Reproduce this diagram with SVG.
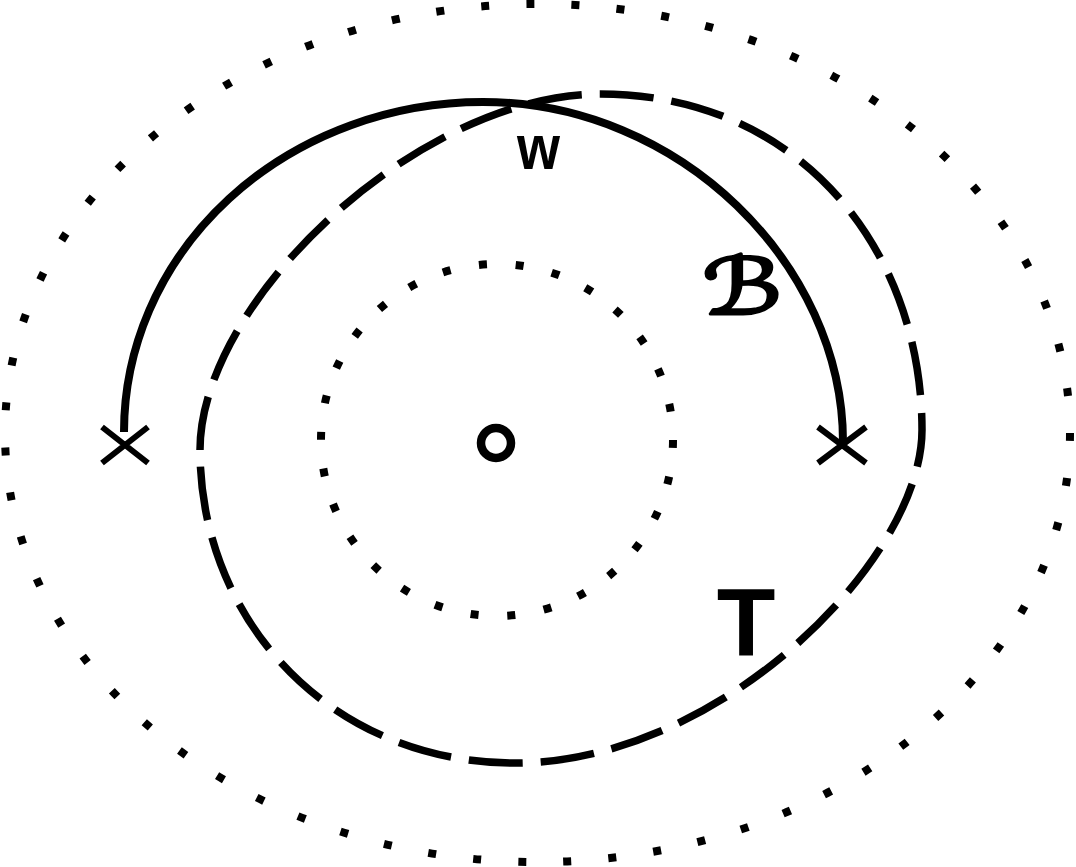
<svg xmlns="http://www.w3.org/2000/svg" width="1076" height="867" viewBox="0 0 1076 867">
  <style>
    .dot-outer { fill: none; stroke: #000; stroke-width: 8; stroke-dasharray: 8 37.21; }
    .dot-inner { fill: none; stroke: #000; stroke-width: 8; stroke-dasharray: 8 28.86; }
    .dash { fill: none; stroke: #000; stroke-width: 7.5; stroke-dasharray: 54 18; }
    .solid { fill: none; stroke: #000; stroke-width: 8; }
    .cross { fill: none; stroke: #000; stroke-width: 6; }
    .lbl { font-family: "Liberation Sans", Arial, sans-serif; font-weight: bold; fill: #000; text-anchor: middle; }
    .script { font-family: "DejaVu Serif", "DejaVu Sans", "Noto Sans", serif; fill: #000; stroke: #000; stroke-width: 3; stroke-linejoin: round; text-anchor: middle; }
  </style>
  <rect x="0" y="0" width="1076" height="867" fill="#fff"/>
  <g id="outer-region">
    <ellipse class="dot-outer" cx="537.5" cy="433" rx="532.5" ry="429"/>
  </g>
  <g id="inner-region">
    <circle class="dot-inner" cx="497" cy="440" r="176"/>
  </g>
  <g id="centre">
    <circle cx="496" cy="443" r="15" fill="none" stroke="#000" stroke-width="8.5"/>
  </g>
  <g id="curve-T">
    <path class="dash" d="M200,450 C200,300 420,94 600,94 C800,94 922,250 922,430 C922,560 720,763 515,763 C330,763 200,620 200,450 Z"/>
  </g>
  <g id="connectors">
    <path id="arc-B" class="solid" d="M124,432 A359,330 0 0 1 483,102 C680,102 843,265 843,442"/>
  </g>
  <g id="cross-left">
    <path class="cross" d="M102,427 L148,463 M102,463 L148,427"/>
  </g>
  <g id="cross-right">
    <path class="cross" d="M818,427 L866,463 M818,463 L866,427"/>
  </g>
  <g id="labels">
    <text class="lbl" x="538.5" y="169" font-size="63" textLength="43" lengthAdjust="spacingAndGlyphs">w</text>
    <text class="script" x="742" y="314" font-size="78" textLength="80" lengthAdjust="spacingAndGlyphs">ℬ</text>
    <text class="lbl" x="746" y="656" font-size="96">T</text>
  </g>
</svg>
